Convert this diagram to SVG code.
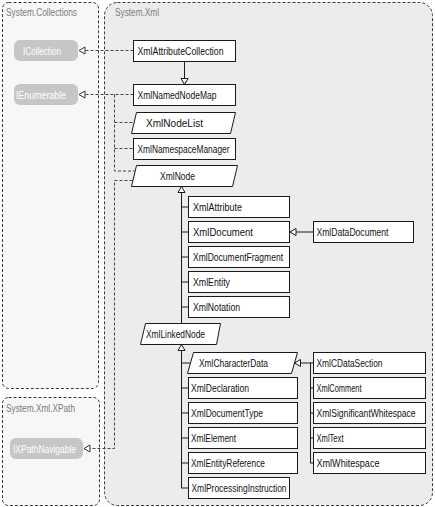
<svg xmlns="http://www.w3.org/2000/svg" width="435" height="507" viewBox="0 0 435 507">
<style>
.panel{stroke:#3a3a3a;stroke-width:1;stroke-dasharray:3 2}
.box{fill:#fff;stroke:#1a1a1a;stroke-width:1}
.pill{fill:#c6c6c6}
text{font-family:"Liberation Sans",Arial,sans-serif;font-size:10.5px;fill:#111}
.title{fill:#7a7a7a}
.ptxt{fill:#fff}
.inh{fill:none;stroke:#1a1a1a;stroke-width:1}
.impl{fill:none;stroke:#444;stroke-width:1;stroke-dasharray:3 2}
</style>
<defs>
<marker id="tri" markerUnits="userSpaceOnUse" markerWidth="9" markerHeight="9" viewBox="0 0 9 9" refX="7.5" refY="4.5" orient="auto">
<path d="M1.5,1 L7.5,4.5 L1.5,8 Z" fill="#fff" stroke="#1a1a1a" stroke-width="1"/>
</marker>
<marker id="tri2" markerUnits="userSpaceOnUse" markerWidth="9" markerHeight="9" viewBox="0 0 9 9" refX="7.5" refY="4.5" orient="auto">
<path d="M1.5,1 L7.5,4.5 L1.5,8 Z" fill="#fff" stroke="#333" stroke-width="1"/>
</marker>
</defs>
<rect width="435" height="507" fill="#fff"/>
<g id="panel-collections">
<rect class="panel" x="2.5" y="2.5" width="96" height="386" rx="6" fill="#f7f7f7"/>
<text class="title" x="6" y="16" textLength="71" lengthAdjust="spacingAndGlyphs">System.Collections</text>
</g>
<g id="panel-xpath">
<rect class="panel" x="2.5" y="397.5" width="97" height="108" rx="6" fill="#f7f7f7"/>
<text class="title" x="6" y="412" textLength="69" lengthAdjust="spacingAndGlyphs">System.Xml.XPath</text>
</g>
<g id="panel-xml">
<rect class="panel" x="104.5" y="2.5" width="328" height="503" rx="13" fill="#ececec"/>
<text class="title" x="115" y="16" textLength="44" lengthAdjust="spacingAndGlyphs">System.Xml</text>
</g>
<g id="connectors">
<line class="impl" x1="133.5" y1="50.5" x2="79" y2="50.5" marker-end="url(#tri2)"/>
<line class="impl" x1="133.5" y1="94.5" x2="79" y2="94.5" marker-end="url(#tri2)"/>
<path class="impl" d="M114.5,94.5 V171 H134.6"/>
<line class="impl" x1="114.5" y1="122.5" x2="134" y2="122.5"/>
<line class="impl" x1="114.5" y1="148.5" x2="133.5" y2="148.5"/>
<path class="impl" d="M132.5,180.5 H114.5 V448.5 H84" marker-end="url(#tri2)"/>
<line class="inh" x1="184.5" y1="61.5" x2="184.5" y2="84.5" marker-end="url(#tri)"/>
<line class="inh" x1="181.5" y1="323.5" x2="181.5" y2="186.5" marker-end="url(#tri)"/>
<line class="inh" x1="181.5" y1="207" x2="188.5" y2="207"/>
<line class="inh" x1="181.5" y1="232" x2="188.5" y2="232"/>
<line class="inh" x1="181.5" y1="257" x2="188.5" y2="257"/>
<line class="inh" x1="181.5" y1="282" x2="188.5" y2="282"/>
<line class="inh" x1="181.5" y1="307" x2="188.5" y2="307"/>
<line class="inh" x1="313.5" y1="232" x2="290" y2="232" marker-end="url(#tri)"/>
<line class="inh" x1="181.5" y1="488" x2="181.5" y2="344.5" marker-end="url(#tri)"/>
<line class="inh" x1="181.5" y1="363" x2="190" y2="363"/>
<line class="inh" x1="181.5" y1="388" x2="188.5" y2="388"/>
<line class="inh" x1="181.5" y1="413" x2="188.5" y2="413"/>
<line class="inh" x1="181.5" y1="438" x2="188.5" y2="438"/>
<line class="inh" x1="181.5" y1="463" x2="188.5" y2="463"/>
<line class="inh" x1="181" y1="488" x2="188.5" y2="488"/>
<line class="inh" x1="310.5" y1="362.5" x2="310.5" y2="463"/>
<line class="inh" x1="310.5" y1="363" x2="294.5" y2="363" marker-end="url(#tri)"/>
<line class="inh" x1="310.5" y1="363" x2="313.5" y2="363"/>
<line class="inh" x1="310.5" y1="388" x2="313.5" y2="388"/>
<line class="inh" x1="310.5" y1="413" x2="313.5" y2="413"/>
<line class="inh" x1="310.5" y1="438" x2="313.5" y2="438"/>
<line class="inh" x1="310" y1="463" x2="313.5" y2="463"/>
</g>
<g id="ICollection">
<rect class="pill" x="14" y="40" width="64" height="21" rx="6"/>
<text class="ptxt" x="23" y="55" textLength="38" lengthAdjust="spacingAndGlyphs">ICollection</text>
</g>
<g id="IEnumerable">
<rect class="pill" x="14" y="84" width="64" height="21" rx="6"/>
<text class="ptxt" x="16" y="99" textLength="50" lengthAdjust="spacingAndGlyphs">IEnumerable</text>
</g>
<g id="IXPathNavigable">
<rect class="pill" x="10" y="438" width="73" height="21" rx="6"/>
<text class="ptxt" x="13" y="453" textLength="63" lengthAdjust="spacingAndGlyphs">IXPathNavigable</text>
</g>
<g id="XmlAttributeCollection">
<rect class="box" x="133.5" y="40.5" width="102" height="21"/>
<text x="137.5" y="55" textLength="86" lengthAdjust="spacingAndGlyphs">XmlAttributeCollection</text>
</g>
<g id="XmlNamedNodeMap">
<rect class="box" x="133.5" y="84.5" width="102" height="21"/>
<text x="137.5" y="99" textLength="79" lengthAdjust="spacingAndGlyphs">XmlNamedNodeMap</text>
</g>
<g id="XmlNodeList">
<polygon class="box" points="136.5,112.5 235.5,112.5 230.5,133.5 131.5,133.5"/>
<text x="146" y="127" textLength="57" lengthAdjust="spacingAndGlyphs">XmlNodeList</text>
</g>
<g id="XmlNamespaceManager">
<rect class="box" x="133.5" y="138.5" width="102" height="21"/>
<text x="137.5" y="153" textLength="92" lengthAdjust="spacingAndGlyphs">XmlNamespaceManager</text>
</g>
<g id="XmlNode">
<polygon class="box" points="136.5,165.5 237.5,165.5 232.5,186.5 131.5,186.5"/>
<text x="160" y="180" textLength="35" lengthAdjust="spacingAndGlyphs">XmlNode</text>
</g>
<g id="XmlAttribute">
<rect class="box" x="188.5" y="196.5" width="101" height="21"/>
<text x="193" y="211" textLength="49" lengthAdjust="spacingAndGlyphs">XmlAttribute</text>
</g>
<g id="XmlDocument">
<rect class="box" x="188.5" y="221.5" width="101" height="21"/>
<text x="193" y="236" textLength="60" lengthAdjust="spacingAndGlyphs">XmlDocument</text>
</g>
<g id="XmlDocumentFragment">
<rect class="box" x="188.5" y="246.5" width="101" height="21"/>
<text x="193" y="261" textLength="90" lengthAdjust="spacingAndGlyphs">XmlDocumentFragment</text>
</g>
<g id="XmlEntity">
<rect class="box" x="188.5" y="271.5" width="101" height="21"/>
<text x="193" y="286" textLength="37" lengthAdjust="spacingAndGlyphs">XmlEntity</text>
</g>
<g id="XmlNotation">
<rect class="box" x="188.5" y="296.5" width="101" height="21"/>
<text x="193" y="311" textLength="47" lengthAdjust="spacingAndGlyphs">XmlNotation</text>
</g>
<g id="XmlDataDocument">
<rect class="box" x="313.5" y="221.5" width="100" height="21"/>
<text x="316.5" y="236" textLength="72" lengthAdjust="spacingAndGlyphs">XmlDataDocument</text>
</g>
<g id="XmlLinkedNode">
<polygon class="box" points="145.5,323.5 220.5,323.5 216.5,344.5 140.5,344.5"/>
<text x="146" y="338" textLength="59" lengthAdjust="spacingAndGlyphs">XmlLinkedNode</text>
</g>
<g id="XmlCharacterData">
<polygon class="box" points="193.5,352.5 297.5,352.5 291.5,373.5 187.5,373.5"/>
<text x="199" y="367" textLength="69" lengthAdjust="spacingAndGlyphs">XmlCharacterData</text>
</g>
<g id="XmlDeclaration">
<rect class="box" x="188.5" y="377.5" width="109" height="21"/>
<text x="191" y="392" textLength="58" lengthAdjust="spacingAndGlyphs">XmlDeclaration</text>
</g>
<g id="XmlDocumentType">
<rect class="box" x="188.5" y="402.5" width="109" height="21"/>
<text x="191" y="417" textLength="72" lengthAdjust="spacingAndGlyphs">XmlDocumentType</text>
</g>
<g id="XmlElement">
<rect class="box" x="188.5" y="427.5" width="109" height="21"/>
<text x="191" y="442" textLength="45" lengthAdjust="spacingAndGlyphs">XmlElement</text>
</g>
<g id="XmlEntityReference">
<rect class="box" x="188.5" y="452.5" width="109" height="21"/>
<text x="191" y="467" textLength="74" lengthAdjust="spacingAndGlyphs">XmlEntityReference</text>
</g>
<g id="XmlProcessingInstruction">
<rect class="box" x="188.5" y="477.5" width="101" height="21"/>
<text x="191.5" y="492" textLength="95" lengthAdjust="spacingAndGlyphs">XmlProcessingInstruction</text>
</g>
<g id="XmlCDataSection">
<rect class="box" x="313.5" y="352.5" width="112" height="21"/>
<text x="316.5" y="367" textLength="66" lengthAdjust="spacingAndGlyphs">XmlCDataSection</text>
</g>
<g id="XmlComment">
<rect class="box" x="313.5" y="377.5" width="112" height="21"/>
<text x="316.5" y="392" textLength="45" lengthAdjust="spacingAndGlyphs">XmlComment</text>
</g>
<g id="XmlSignificantWhitespace">
<rect class="box" x="313.5" y="402.5" width="112" height="21"/>
<text x="316.5" y="417" textLength="99" lengthAdjust="spacingAndGlyphs">XmlSignificantWhitespace</text>
</g>
<g id="XmlText">
<rect class="box" x="313.5" y="427.5" width="112" height="21"/>
<text x="316.5" y="442" textLength="27" lengthAdjust="spacingAndGlyphs">XmlText</text>
</g>
<g id="XmlWhitespace">
<rect class="box" x="313.5" y="452.5" width="112" height="21"/>
<text x="316.5" y="467" textLength="63" lengthAdjust="spacingAndGlyphs">XmlWhitespace</text>
</g>
</svg>
